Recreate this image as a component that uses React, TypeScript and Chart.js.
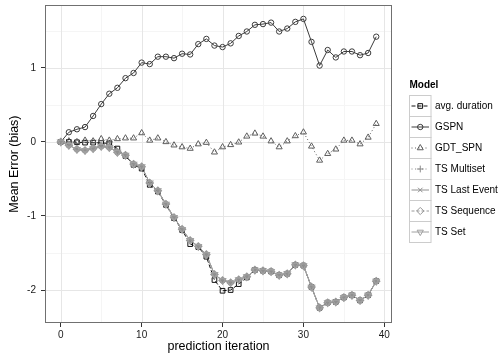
import React, { useEffect, useRef } from 'react';
import { Chart, registerables } from 'chart.js';

Chart.register(...registerables);

// ---------- data ----------
const iterations = [0, 1, 2, 3, 4, 5, 6, 7, 8, 9, 10, 11, 12, 13, 14, 15, 16, 17, 18, 19, 20, 21, 22, 23, 24, 25, 26, 27, 28, 29, 30, 31, 32, 33, 34, 35, 36, 37, 38, 39];

const avgDuration = [0, 0, -0.005, -0.01, -0.01, -0.015, -0.02, -0.09, -0.19, -0.31, -0.36, -0.58, -0.67, -0.85, -1.03, -1.19, -1.38, -1.42, -1.55, -1.865, -2.01, -2.0, -1.92, -1.83, -1.73, -1.74, -1.75, -1.8, -1.78, -1.66, -1.67, -1.96, -2.24, -2.17, -2.16, -2.1, -2.07, -2.14, -2.07, -1.88];
const gspn = [0, 0.13, 0.17, 0.2, 0.35, 0.51, 0.65, 0.73, 0.86, 0.93, 1.07, 1.05, 1.15, 1.15, 1.13, 1.19, 1.18, 1.32, 1.39, 1.3, 1.28, 1.33, 1.43, 1.49, 1.58, 1.59, 1.61, 1.49, 1.53, 1.62, 1.66, 1.35, 1.03, 1.24, 1.14, 1.22, 1.22, 1.17, 1.2, 1.42];
const gdtSpn = [0, 0.01, 0.0, 0.02, 0.01, 0.04, 0.02, 0.04, 0.05, 0.05, 0.12, 0.02, 0.05, 0.0, -0.045, -0.07, -0.09, -0.03, -0.01, -0.14, -0.07, -0.04, -0.005, 0.075, 0.115, 0.075, 0.01, -0.07, 0.01, 0.08, 0.13, -0.06, -0.25, -0.16, -0.1, 0.02, 0.02, -0.03, 0.06, 0.245];
const tsMultiset = [0, -0.045, -0.1, -0.115, -0.09, -0.06, -0.075, -0.14, -0.18, -0.3, -0.335, -0.555, -0.66, -0.84, -1.02, -1.18, -1.33, -1.41, -1.52, -1.79, -1.87, -1.9, -1.86, -1.82, -1.73, -1.74, -1.75, -1.8, -1.78, -1.66, -1.67, -1.96, -2.24, -2.17, -2.16, -2.1, -2.07, -2.14, -2.07, -1.88];
const tsLastEvent = [0, -0.045, -0.1, -0.115, -0.09, -0.06, -0.075, -0.14, -0.18, -0.3, -0.335, -0.555, -0.66, -0.84, -1.02, -1.18, -1.33, -1.41, -1.52, -1.79, -1.87, -1.9, -1.86, -1.82, -1.73, -1.74, -1.75, -1.8, -1.78, -1.66, -1.67, -1.96, -2.24, -2.17, -2.16, -2.1, -2.07, -2.14, -2.07, -1.88];
const tsSequence = [0, -0.045, -0.1, -0.115, -0.09, -0.06, -0.075, -0.14, -0.18, -0.3, -0.335, -0.555, -0.66, -0.84, -1.02, -1.18, -1.33, -1.41, -1.52, -1.79, -1.87, -1.9, -1.86, -1.82, -1.73, -1.74, -1.75, -1.8, -1.78, -1.66, -1.67, -1.96, -2.24, -2.17, -2.16, -2.1, -2.07, -2.14, -2.07, -1.88];
const tsSet = [0, -0.045, -0.1, -0.115, -0.09, -0.06, -0.075, -0.14, -0.18, -0.3, -0.335, -0.555, -0.66, -0.84, -1.02, -1.18, -1.33, -1.41, -1.52, -1.79, -1.87, -1.9, -1.86, -1.82, -1.73, -1.74, -1.75, -1.8, -1.78, -1.66, -1.67, -1.96, -2.24, -2.17, -2.16, -2.1, -2.07, -2.14, -2.07, -1.88];

const seriesNames = ['avg. duration', 'GSPN', 'GDT_SPN', 'TS Multiset', 'TS Last Event', 'TS Sequence', 'TS Set'];
const seriesValues = [avgDuration, gspn, gdtSpn, tsMultiset, tsLastEvent, tsSequence, tsSet];

const xTicks = [0, 10, 20, 30, 40];
const xTickLabels = ['0', '10', '20', '30', '40'];
const xMinor = [5, 15, 25, 35];
const yTicks = [-2, -1, 0, 1];
const yTickLabels = ['-2', '-1', '0', '1'];
const yMinor = [-1.5, -0.5, 0.5, 1.5];

const xTitle = 'prediction iteration';
const yTitle = 'Mean Error (bias)';
const legendTitle = 'Model';

// ---------- styles ----------
const FONT = '"Liberation Sans", Arial, Helvetica, sans-serif';
const styles = [
  { color: '#111111', dash: [4, 2], point: 'rect', r: 3.3, rot: 0, w: 1 },
  { color: '#3c3c3c', dash: [], point: 'circle', r: 2.7, rot: 0, w: 1 },
  { color: '#5e5e5e', dash: [1, 2.5], point: 'triangle', r: 3.5, rot: 0, w: 1 },
  { color: '#888888', dash: [1, 2.5], point: 'cross', r: 3.4, rot: 0, w: 1.2 },
  { color: '#909090', dash: [], point: 'crossRot', r: 3.2, rot: 0, w: 1.2 },
  { color: '#989898', dash: [3, 2], point: 'rectRot', r: 3.6, rot: 0, w: 1.2 },
  { color: '#a0a0a0', dash: [], point: 'triangle', r: 3.6, rot: 180, w: 1.2 },
];

function drawMarker(ctx: CanvasRenderingContext2D, kind: string, x: number, y: number, r: number, rot: number) {
  ctx.save();
  ctx.translate(x, y);
  ctx.rotate((rot * Math.PI) / 180);
  ctx.beginPath();
  if (kind === 'circle') {
    ctx.arc(0, 0, r, 0, Math.PI * 2);
  } else if (kind === 'rect') {
    const s = r * Math.SQRT1_2;
    ctx.rect(-s, -s, 2 * s, 2 * s);
  } else if (kind === 'triangle') {
    ctx.moveTo(0, -r);
    ctx.lineTo(r * 0.866, r * 0.5);
    ctx.lineTo(-r * 0.866, r * 0.5);
    ctx.closePath();
  } else if (kind === 'cross') {
    ctx.moveTo(-r, 0); ctx.lineTo(r, 0);
    ctx.moveTo(0, -r); ctx.lineTo(0, r);
  } else if (kind === 'crossRot') {
    const s = r * Math.SQRT1_2;
    ctx.moveTo(-s, -s); ctx.lineTo(s, s);
    ctx.moveTo(-s, s); ctx.lineTo(s, -s);
  } else if (kind === 'rectRot') {
    ctx.moveTo(0, -r); ctx.lineTo(r, 0); ctx.lineTo(0, r); ctx.lineTo(-r, 0);
    ctx.closePath();
  }
  ctx.stroke();
  ctx.restore();
}

const gridPlugin = {
  id: 'ggGrid',
  beforeDatasetsDraw(chart: any) {
    const { ctx, chartArea: a, scales } = chart;
    const xs = scales.x, ys = scales.y;
    ctx.save();
    ctx.lineWidth = 1;
    ctx.strokeStyle = '#f5f5f5';
    xMinor.forEach((v) => { const p = Math.round(xs.getPixelForValue(v)) + 0.5; ctx.beginPath(); ctx.moveTo(p, a.top); ctx.lineTo(p, a.bottom); ctx.stroke(); });
    yMinor.forEach((v) => { const p = Math.round(ys.getPixelForValue(v)) + 0.5; ctx.beginPath(); ctx.moveTo(a.left, p); ctx.lineTo(a.right, p); ctx.stroke(); });
    ctx.strokeStyle = '#e6e6e6';
    xTicks.forEach((v) => { const p = Math.round(xs.getPixelForValue(v)) + 0.5; ctx.beginPath(); ctx.moveTo(p, a.top); ctx.lineTo(p, a.bottom); ctx.stroke(); });
    yTicks.forEach((v) => { const p = Math.round(ys.getPixelForValue(v)) + 0.5; ctx.beginPath(); ctx.moveTo(a.left, p); ctx.lineTo(a.right, p); ctx.stroke(); });
    ctx.restore();
  },
  afterDatasetsDraw(chart: any) {
    const { ctx, chartArea: a } = chart;
    ctx.save();
    ctx.strokeStyle = '#707070';
    ctx.lineWidth = 1;
    ctx.strokeRect(Math.round(a.left) + 0.5, Math.round(a.top) + 0.5, Math.round(a.right - a.left) - 1, Math.round(a.bottom - a.top) - 1);
    ctx.restore();
  },
  afterDraw(chart: any) {
    const ctx: CanvasRenderingContext2D = chart.ctx;
    ctx.save();
    ctx.fillStyle = '#000';
    ctx.textBaseline = 'middle';
    ctx.textAlign = 'left';
    ctx.font = 'bold 10px ' + FONT;
    ctx.fillText(legendTitle, 409.5, 85);
    const keyLeft = 409.5, keyW = 21.5, keyH = 21, top0 = 95.5;
    seriesNames.forEach((name, i) => {
      const st = styles[i];
      const top = top0 + i * keyH;
      const cy = top + keyH / 2;
      ctx.fillStyle = '#ffffff';
      ctx.fillRect(keyLeft, top, keyW, keyH);
      ctx.strokeStyle = '#cccccc';
      ctx.lineWidth = 1;
      ctx.setLineDash([]);
      ctx.strokeRect(keyLeft, top, keyW, keyH);
      ctx.strokeStyle = st.color;
      ctx.setLineDash(st.dash);
      ctx.beginPath();
      ctx.moveTo(keyLeft + 2, cy);
      ctx.lineTo(keyLeft + keyW - 2, cy);
      ctx.stroke();
      ctx.setLineDash([]);
      drawMarker(ctx, st.point, keyLeft + keyW / 2, cy, st.r, st.rot);
      ctx.fillStyle = '#000';
      ctx.font = '10px ' + FONT;
      ctx.fillText(name, 435, cy);
    });
    ctx.restore();
  },
};

export default function App() {
  const ref = useRef<HTMLCanvasElement | null>(null);

  useEffect(() => {
    if (!ref.current) return;
    Chart.defaults.font.family = FONT;
    const lineSets = seriesValues.map((vals, i) => ({
      label: seriesNames[i] + ' line',
      data: iterations.map((x, k) => ({ x, y: vals[k] })),
      borderColor: styles[i].color,
      borderWidth: 1,
      borderDash: styles[i].dash,
      pointRadius: 0,
      fill: false,
      tension: 0,
      order: 20 - i,
    }));
    const pointSets = seriesValues.map((vals, i) => ({
      label: seriesNames[i],
      data: iterations.map((x, k) => ({ x, y: vals[k] })),
      showLine: false,
      borderColor: styles[i].color,
      backgroundColor: 'rgba(0,0,0,0)',
      pointStyle: styles[i].point,
      pointRadius: styles[i].r,
      pointRotation: styles[i].rot,
      pointBorderColor: styles[i].color,
      pointBackgroundColor: 'rgba(0,0,0,0)',
      pointBorderWidth: styles[i].w,
      order: 10 - i,
    }));

    const chart = new Chart(ref.current, {
      type: 'line',
      data: { datasets: [...lineSets, ...pointSets] as any },
      options: {
        responsive: false,
        animation: false,
        devicePixelRatio: 1,
        layout: { padding: { left: 0, top: 1, right: 109, bottom: 0 } },
        plugins: { legend: { display: false }, tooltip: { enabled: false } },
        scales: {
          x: {
            type: 'linear',
            min: -1.95,
            max: 40.95,
            afterBuildTicks: (s: any) => { s.ticks = xTicks.map((v) => ({ value: v })); },
            afterFit: (s: any) => { s.height = 37; s.paddingLeft = 0; s.paddingRight = 0; },
            border: { display: false },
            grid: { drawOnChartArea: false, drawTicks: true, tickLength: 4, tickColor: '#333333', color: '#333333' },
            ticks: {
              autoSkip: false, maxRotation: 0, padding: 2, color: '#1a1a1a', font: { size: 10 },
              callback: (v: any) => { const k = xTicks.indexOf(Number(v)); return k >= 0 ? xTickLabels[k] : ''; },
            },
            title: { display: true, text: xTitle, color: '#000', font: { size: 12.5 }, padding: { top: 0, bottom: 5.5 } },
          },
          y: {
            type: 'linear',
            min: -2.445,
            max: 1.845,
            afterBuildTicks: (s: any) => { s.ticks = yTicks.map((v) => ({ value: v })); },
            afterFit: (s: any) => { s.width = 45; s.paddingTop = 0; s.paddingBottom = 0; },
            border: { display: false },
            grid: { drawOnChartArea: false, drawTicks: true, tickLength: 4, tickColor: '#333333', color: '#333333' },
            ticks: {
              autoSkip: false, padding: 5, color: '#1a1a1a', font: { size: 10 },
              callback: (v: any) => { const k = yTicks.indexOf(Number(v)); return k >= 0 ? yTickLabels[k] : ''; },
            },
            title: { display: true, text: yTitle, color: '#000', font: { size: 12.5 }, padding: { top: 7.5, bottom: 0 } },
          },
        },
      },
      plugins: [gridPlugin],
    } as any);
    return () => chart.destroy();
  }, []);

  return (
    <div style={{ position: 'absolute', left: 0, top: 0, width: 501, height: 360, background: '#fff' }}>
      <canvas ref={ref} width={501} height={360} />
    </div>
  );
}
